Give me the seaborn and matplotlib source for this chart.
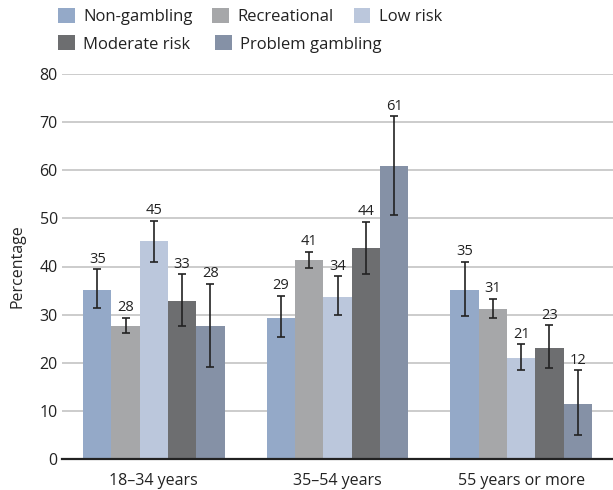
import numpy as np
import pandas as pd
import matplotlib
matplotlib.use("Agg")
import matplotlib.pyplot as plt
from matplotlib.patches import Patch
from matplotlib.ticker import FixedLocator
import seaborn as sns

age_groups = ["18–34 years", "35–54 years", "55 years or more"]
categories = ["Non-gambling", "Recreational", "Low risk", "Moderate risk", "Problem gambling"]
colors = ["#94a9c8", "#a6a7a9", "#bbc7dc", "#6d6e70", "#8591a6"]

non_gambling = [35.1, 29.3, 35.1]
recreational = [27.6, 41.4, 31.2]
low_risk = [45.2, 33.7, 21.0]
moderate_risk = [32.8, 43.8, 23.1]
problem_gambling = [27.6, 60.8, 11.4]

non_gambling_ci = [(31.3, 39.4), (25.4, 33.9), (29.8, 41.0)]
recreational_ci = [(26.2, 29.4), (39.7, 43.1), (29.3, 33.3)]
low_risk_ci = [(40.9, 49.5), (29.9, 38.0), (18.5, 23.8)]
moderate_risk_ci = [(27.6, 38.4), (38.5, 49.3), (18.9, 27.8)]
problem_gambling_ci = [(19.1, 36.4), (50.8, 71.2), (5.0, 18.5)]

value_labels = [[35, 29, 35], [28, 41, 31], [45, 34, 21], [33, 44, 23], [28, 61, 12]]

series = [non_gambling, recreational, low_risk, moderate_risk, problem_gambling]
cis = [non_gambling_ci, recreational_ci, low_risk_ci, moderate_risk_ci, problem_gambling_ci]

rows = []
for cat, vals in zip(categories, series):
    for age, v in zip(age_groups, vals):
        rows.append({"age": age, "category": cat, "value": v})
df = pd.DataFrame(rows)

sns.set_theme(style="white")
plt.rcParams["font.family"] = ["Open Sans", "DejaVu Sans"]
plt.rcParams["text.color"] = "#222222"
plt.rcParams["xtick.color"] = "#222222"
plt.rcParams["ytick.color"] = "#222222"

fig = plt.figure(figsize=(6.13, 4.90), dpi=100)
ax = fig.add_axes([62 / 613, 31 / 490, 551 / 613, 385 / 490])

sns.barplot(data=df, x="age", y="value", hue="category", hue_order=categories,
            order=age_groups, palette=colors, width=0.77, errorbar=None,
            saturation=1, linewidth=0, ax=ax, legend=False)

bar_containers = list(ax.containers)
for i, cont in enumerate(bar_containers):
    for j, bar in enumerate(cont.patches):
        cx = bar.get_x() + bar.get_width() / 2
        v = bar.get_height()
        lo, hi = cis[i][j]
        ax.errorbar([cx], [v], yerr=[[v - lo], [hi - v]], fmt="none",
                    ecolor="#222222", elinewidth=1.2, capsize=3.2, capthick=1.2, zorder=4)
        ax.text(cx, hi + 0.5, str(value_labels[i][j]), ha="center", va="bottom",
                fontsize=10.5, color="#222222")

ax.set_ylim(0, 80)
ax.set_xlim(-0.5, 2.5)
ax.set_yticks(range(0, 81, 10))
ax.yaxis.grid(True, color="#c8c8c8", linewidth=1.3)
ax.set_axisbelow(True)
for s in ["top", "right", "left"]:
    ax.spines[s].set_visible(False)
ax.spines["bottom"].set_color("#222222")
ax.spines["bottom"].set_linewidth(1.6)
ax.spines["bottom"].set_zorder(5)

ax.tick_params(axis="y", length=0, pad=3, labelsize=11.5)
ax.tick_params(axis="x", which="major", length=0, pad=10, labelsize=11.5)
ax.xaxis.set_minor_locator(FixedLocator([0.5, 1.5]))
ax.tick_params(axis="x", which="minor", length=6, width=1.3, color="#222222", direction="out")
ax.set_xlabel("")
ax.set_ylabel("Percentage", fontsize=11.5, labelpad=10)

handles = [Patch(facecolor=c, edgecolor="none") for c in colors]
leg_kw = dict(loc="upper left", frameon=False, fontsize=12, handlelength=1.0,
              handleheight=1.0, handletextpad=0.5, borderpad=0, borderaxespad=0)
fig.legend(handles[:3], categories[:3], ncol=3, columnspacing=1.2,
           bbox_to_anchor=(58 / 613, 1 - 8 / 490), **leg_kw)
fig.legend(handles[3:], categories[3:], ncol=2, columnspacing=1.5,
           bbox_to_anchor=(58 / 613, 1 - 35.5 / 490), **leg_kw)

fig.savefig("out.png", dpi=100)
